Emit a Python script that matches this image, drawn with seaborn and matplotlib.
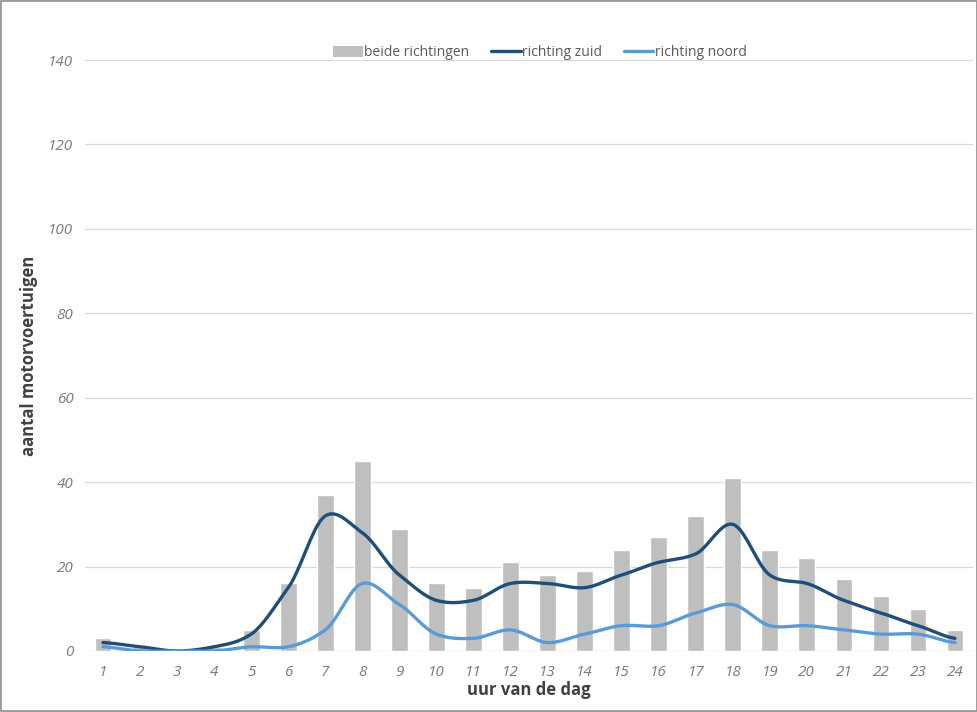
import numpy as np
import pandas as pd
import matplotlib
matplotlib.use("Agg")
import matplotlib.pyplot as plt
from matplotlib.patches import Rectangle, Patch
from matplotlib.lines import Line2D
import seaborn as sns

# Hourly vehicle counts
uren = [str(h) for h in range(1, 25)]
beide_richtingen = [3, 1, 0, 1, 5, 16, 37, 45, 29, 16, 15, 21, 18, 19, 24, 27, 32, 41, 24, 22, 17, 13, 10, 5]
richting_zuid = [2, 1, 0, 1, 4, 15, 32, 28, 18, 12, 12, 16, 16, 15, 18, 21, 23, 30, 18, 16, 12, 9, 6, 3]
richting_noord = [1, 0, 0, 0, 1, 1, 5, 16, 11, 4, 3, 5, 2, 4, 6, 6, 9, 11, 6, 6, 5, 4, 4, 2]

BAR_COLOR = "#BFBFBF"
ZUID_COLOR = "#1F4E79"
NOORD_COLOR = "#5B9BD5"
TEXT_COLOR = "#595959"
TICK_COLOR = "#7A7A7A"
LABEL_COLOR = "#404040"


def smooth_curve(values, steps=20):
    """Catmull-Rom style smoothing through every point (spreadsheet 'smoothed line')."""
    y = np.asarray(values, dtype=float)
    n = len(y)
    xs, ys = [], []
    for i in range(n - 1):
        p0 = y[i - 1] if i > 0 else y[i]
        p1, p2 = y[i], y[i + 1]
        p3 = y[i + 2] if i + 2 < n else y[i + 1]
        t = np.linspace(0, 1, steps, endpoint=False)
        m1 = (p2 - p0) / 2 * 0.85
        m2 = (p3 - p1) / 2 * 0.85
        h00 = 2 * t**3 - 3 * t**2 + 1
        h10 = t**3 - 2 * t**2 + t
        h01 = -2 * t**3 + 3 * t**2
        h11 = t**3 - t**2
        xs.append(i + t)
        ys.append(h00 * p1 + h10 * m1 + h01 * p2 + h11 * m2)
    xs.append(np.array([n - 1.0]))
    ys.append(np.array([y[-1]]))
    return np.concatenate(xs), np.concatenate(ys)


sns.set_theme(style="white")
plt.rcParams["font.family"] = ["Open Sans", "DejaVu Sans"]

fig = plt.figure(figsize=(9.78, 7.12), dpi=100)
ax = fig.add_axes([84.5 / 978, 1 - 651 / 712, (973.5 - 84.5) / 978, (651 - 60) / 712])

df = pd.DataFrame({"uur": uren, "aantal": beide_richtingen})
sns.barplot(data=df, x="uur", y="aantal", color=BAR_COLOR, saturation=1,
            width=0.45, ax=ax, zorder=2)

for vals, col in [(richting_zuid, ZUID_COLOR), (richting_noord, NOORD_COLOR)]:
    sx, sy = smooth_curve(vals)
    sns.lineplot(x=sx, y=sy, color=col, linewidth=2.4, ax=ax, zorder=3,
                 solid_capstyle="round")

ax.set_xlim(-0.5, 23.5)
ax.set_ylim(0, 140)
ax.set_yticks(range(0, 141, 20))
ax.yaxis.grid(True, color="#D9D9D9", linewidth=0.9)
ax.set_axisbelow(True)
for s in ax.spines.values():
    s.set_visible(False)
ax.axhline(0, color="#D9D9D9", linewidth=0.9, zorder=1)

ax.tick_params(axis="both", length=0, labelsize=11, colors=TICK_COLOR)
ax.tick_params(axis="x", pad=10)
ax.tick_params(axis="y", pad=8)
for lab in ax.get_xticklabels() + ax.get_yticklabels():
    lab.set_fontstyle("italic")

ax.set_xlabel("uur van de dag", fontsize=12, fontweight="bold", color=LABEL_COLOR, labelpad=1)
ax.set_ylabel("aantal motorvoertuigen", fontsize=12, fontweight="bold", color=LABEL_COLOR)
ax.yaxis.set_label_coords(-47 / 889, 0.5)

handles = [
    Patch(facecolor=BAR_COLOR, edgecolor="none"),
    Line2D([], [], color=ZUID_COLOR, linewidth=2.4),
    Line2D([], [], color=NOORD_COLOR, linewidth=2.4),
]
fig.legend(handles, ["beide richtingen", "richting zuid", "richting noord"],
           loc="center", bbox_to_anchor=(540 / 978, 1 - 53 / 712), ncol=3,
           frameon=False, fontsize=10, labelcolor=TEXT_COLOR,
           handlelength=2.1, handletextpad=0.1, columnspacing=1.6,
           handleheight=0.8)

fig.patches.append(Rectangle((0.001, 0.001), 0.998, 0.998, transform=fig.transFigure,
                             fill=False, edgecolor="#8C8C8C", linewidth=1.2))

fig.savefig("out.png", dpi=100, facecolor="white")
